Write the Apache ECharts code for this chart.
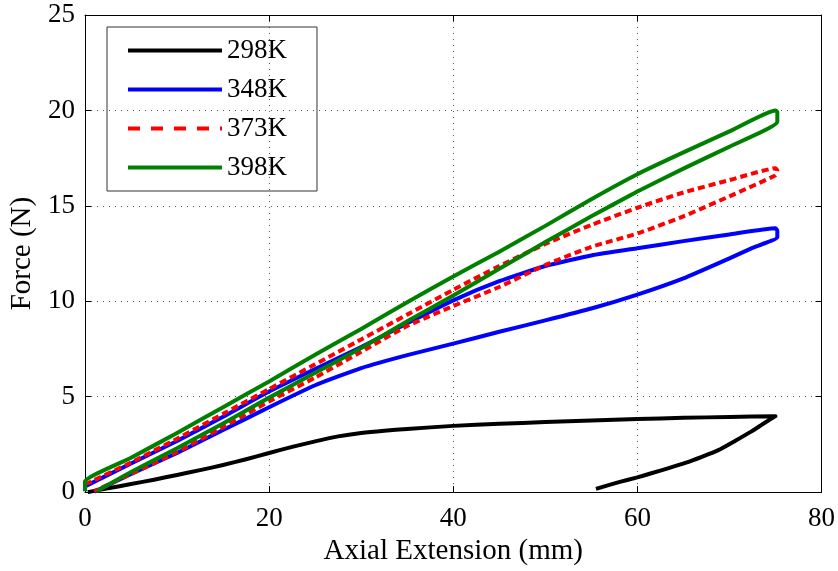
<!DOCTYPE html>
<html>
<head>
<meta charset="utf-8">
<script src="https://cdn.jsdelivr.net/npm/echarts@6/dist/echarts.min.js"></script>
<style>
  html, body { margin: 0; padding: 0; background: #fff; }
  #chart { width: 838px; height: 571px; }
</style>
</head>
<body>
<div id="chart"></div>
<script>
// Force vs axial extension hysteresis loops at four temperatures.
// Each loop: loading branch (0 -> 75 mm) followed by unloading branch (75 mm -> back).
const seriesNames = ['298K', '348K', '373K', '398K'];

const ext298 = [0.3, 2.5, 5, 7.5, 10, 12.5, 15, 17.5, 20, 22.5, 25, 27.5, 30, 32.5, 35, 40, 45, 50, 55, 60, 65, 70, 75,
                73.8, 72.4, 70.6, 68.8, 67, 65.2, 63.4, 61.6, 60, 58, 55.5];
const force298 = [0, 0.2, 0.42, 0.65, 0.9, 1.15, 1.42, 1.72, 2.05, 2.37, 2.66, 2.92, 3.1, 3.22, 3.31, 3.47, 3.58, 3.67, 3.75, 3.83, 3.89, 3.94, 3.98,
                  3.62, 3.18, 2.68, 2.2, 1.85, 1.53, 1.26, 1.0, 0.77, 0.52, 0.17];

const ext348 = [0, 5, 10, 15, 20, 25, 30, 35, 40, 45, 50, 55, 60, 65, 70, 75, 75.2, 75.2,
                72.5, 70, 65, 60, 55, 50, 45, 40, 35, 30, 25, 20, 15, 10, 5, 1];
const force348 = [0.3, 1.5, 2.68, 3.95, 5.27, 6.45, 7.6, 8.85, 10.05, 11.05, 11.85, 12.4, 12.78, 13.15, 13.5, 13.82, 13.7, 13.35,
                  12.8, 12.25, 11.2, 10.35, 9.62, 9.0, 8.4, 7.78, 7.18, 6.5, 5.6, 4.45, 3.25, 2.05, 0.95, 0.02];

const ext373 = [0, 5, 10, 15, 20, 25, 30, 35, 40, 45, 50, 55, 60, 65, 70, 75, 75.2,
                75, 70, 65, 60, 55, 50, 45, 40, 35, 30, 25, 20, 15, 10, 5, 1];
const force373 = [0.4, 1.55, 2.8, 4.1, 5.4, 6.7, 8.0, 9.3, 10.6, 11.85, 13.0, 14.0, 14.9, 15.7, 16.35, 16.97, 16.85,
                  16.6, 15.5, 14.45, 13.55, 12.85, 11.9, 10.75, 9.75, 8.7, 7.35, 6.0, 4.75, 3.4, 2.1, 0.95, 0.05];

const ext398 = [0, 0, 5, 10, 15, 20, 25, 30, 35, 40, 45, 50, 55, 60, 65, 70, 75, 75.2, 75.2,
                70, 65, 60, 55, 50, 45, 40, 35, 30, 25, 20, 15, 10, 5, 1.3];
const force398 = [0.05, 0.55, 1.8, 3.1, 4.45, 5.8, 7.2, 8.55, 9.95, 11.3, 12.6, 13.95, 15.35, 16.66, 17.8, 18.9, 20.0, 19.9, 19.4,
                  18.1, 16.95, 15.75, 14.45, 13.1, 11.7, 10.3, 8.95, 7.55, 6.25, 4.95, 3.6, 2.3, 1.05, 0.05];

const xTicks = { min: 0, max: 80, interval: 20 };
const yTicks = { min: 0, max: 25, interval: 5 };

const seriesX = [ext298, ext348, ext373, ext398];
const seriesY = [force298, force348, force373, force398];
const colors = ['#000000', '#0000ff', '#ff0000', '#008000'];
const dashes = ['solid', 'solid', [7, 4], 'solid'];
const legendDashes = ['solid', 'solid', [12, 11], 'solid'];

const FONT = 'Liberation Serif';

function zip(xs, ys) { return xs.map((x, i) => [x, ys[i]]); }

const chart = echarts.init(document.getElementById('chart'), null, { renderer: 'canvas' });

const gridLine = { show: true, lineStyle: { color: '#555', width: 1, type: [1, 5] } };
const axisLine = { show: true, onZero: false, lineStyle: { color: '#000', width: 1 } };
const tick = { show: true, inside: true, length: 6, lineStyle: { color: '#000' } };

chart.setOption({
  animation: false,
  backgroundColor: '#fff',
  grid: { left: 85, right: 15, top: 15, bottom: 77 },
  legend: {
    orient: 'vertical',
    left: 107, top: 27,
    padding: [10, 30, 10, 19],
    itemWidth: 94, itemHeight: 26, itemGap: 12,
    borderColor: '#333', borderWidth: 1,
    textStyle: { fontFamily: FONT, fontSize: 27, color: '#000' },
    data: seriesNames.map((n, i) => ({
      name: n,
      itemStyle: { opacity: 0 },
      lineStyle: { width: 4, type: legendDashes[i], color: colors[i], cap: 'butt' }
    }))
  },
  xAxis: [
    {
      type: 'value', position: 'bottom', ...xTicks,
      name: 'Axial Extension (mm)', nameLocation: 'middle', nameGap: 42,
      nameTextStyle: { fontFamily: FONT, fontSize: 29, color: '#000' },
      axisLine, axisTick: tick, splitLine: gridLine,
      axisLabel: { fontFamily: FONT, fontSize: 27, color: '#000', margin: 13 }
    },
    {
      type: 'value', position: 'top', ...xTicks,
      axisLine, axisTick: tick, splitLine: { show: false }, axisLabel: { show: false }
    }
  ],
  yAxis: [
    {
      type: 'value', position: 'left', ...yTicks,
      name: 'Force (N)', nameLocation: 'middle', nameGap: 48,
      nameTextStyle: { fontFamily: FONT, fontSize: 29, color: '#000' },
      axisLine, axisTick: tick, splitLine: gridLine,
      axisLabel: { fontFamily: FONT, fontSize: 27, color: '#000', margin: 10 }
    },
    {
      type: 'value', position: 'right', ...yTicks,
      axisLine, axisTick: tick, splitLine: { show: false }, axisLabel: { show: false }
    }
  ],
  series: seriesNames.map((n, i) => ({
    name: n,
    type: 'line',
    xAxisIndex: 0, yAxisIndex: 0,
    data: zip(seriesX[i], seriesY[i]),
    showSymbol: false, symbol: 'none',
    smooth: 0.15,
    lineStyle: { color: colors[i], width: 4, type: dashes[i], cap: 'butt', join: 'round' },
    itemStyle: { color: colors[i] },
    z: 2 + i
  }))
});
</script>
</body>
</html>
